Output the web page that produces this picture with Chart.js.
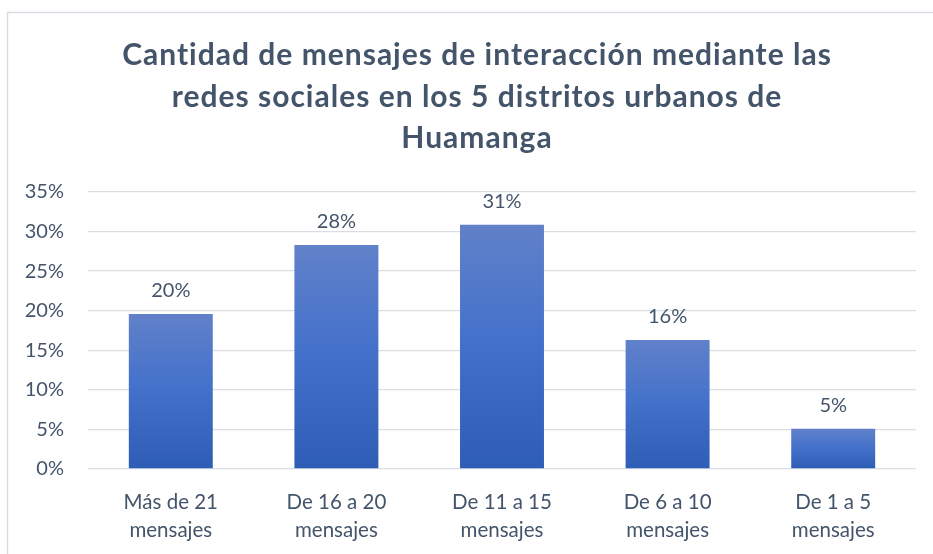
<!DOCTYPE html>
<html>
<head>
<meta charset="utf-8">
<script src="https://cdn.jsdelivr.net/npm/chart.js@4/dist/chart.umd.min.js"></script>
<style>
  html, body { margin: 0; padding: 0; background: #ffffff; }
  #wrap { position: relative; width: 933px; height: 554px; }
</style>
</head>
<body>
<div id="wrap"><canvas id="c" width="933" height="554"></canvas></div>
<script>
const titleLines = [
  "Cantidad de mensajes de interacción mediante las",
  "redes sociales en los 5 distritos urbanos de",
  "Huamanga"
];
const categories = [
  ["Más de 21", "mensajes"],
  ["De 16 a 20", "mensajes"],
  ["De 11 a 15", "mensajes"],
  ["De 6 a 10", "mensajes"],
  ["De 1 a 5", "mensajes"]
];
const percentValues = [19.6, 28.3, 30.85, 16.3, 5.1];
const valueLabels = ["20%", "28%", "31%", "16%", "5%"];
const yTickMax = 35;
const yTickStep = 5;

const textColor = "#44546a";
const gridColor = "#dadee4";
const fontFamily = "Lato, 'Open Sans', sans-serif";

function barGradient(ctx) {
  const chart = ctx.chart;
  const ys = chart.scales && chart.scales.y;
  if (!chart.chartArea || !ys || ctx.dataIndex === undefined) return "#4472c4";
  const v = percentValues[ctx.dataIndex];
  const top = ys.getPixelForValue(v);
  const bottom = ys.getPixelForValue(0);
  if (!isFinite(top) || !isFinite(bottom) || top === bottom) return "#4472c4";
  const g = chart.ctx.createLinearGradient(0, top, 0, bottom);
  g.addColorStop(0, "#6181c9");
  g.addColorStop(0.45, "#4572cb");
  g.addColorStop(1, "#2e5db6");
  return g;
}

const frameTitleLabels = {
  id: "frameTitleLabels",
  beforeDraw(chart) {
    const c = chart.ctx;
    c.save();
    c.fillStyle = "#ffffff";
    c.fillRect(0, 0, chart.width, chart.height);
    c.strokeStyle = "#d9dde3";
    c.lineWidth = 1.5;
    c.strokeRect(7.5, 12.5, 1000, 1000);
    // title
    c.fillStyle = textColor;
    c.font = "bold 30px " + fontFamily;
    c.textAlign = "center";
    c.textBaseline = "alphabetic";
    if ("letterSpacing" in c) c.letterSpacing = "1px";
    const cx = 477;
    titleLines.forEach((line, i) => {
      c.fillText(line, cx, 65 + i * 41.7);
    });
    c.restore();
  },
  afterDatasetsDraw(chart) {
    const c = chart.ctx;
    const meta = chart.getDatasetMeta(0);
    c.save();
    c.fillStyle = textColor;
    c.font = "20px " + fontFamily;
    c.textAlign = "center";
    c.textBaseline = "middle";
    meta.data.forEach((bar, i) => {
      c.fillText(valueLabels[i], bar.x, bar.y - 23);
    });
    c.restore();
  }
};

new Chart(document.getElementById("c"), {
  type: "bar",
  data: {
    labels: categories,
    datasets: [{
      data: percentValues,
      backgroundColor: barGradient,
      borderWidth: 0,
      categoryPercentage: 1.0,
      barPercentage: 0.507
    }]
  },
  options: {
    responsive: false,
    animation: false,
    devicePixelRatio: 1,
    layout: { padding: { top: 192, left: 0, right: 17, bottom: 0 } },
    plugins: {
      legend: { display: false },
      tooltip: { enabled: false },
      title: { display: false }
    },
    scales: {
      x: {
        grid: { display: false, drawTicks: false },
        border: { display: false },
        ticks: {
          color: textColor,
          font: { family: fontFamily, size: 20.5, lineHeight: 1.38 },
          padding: 19,
          maxRotation: 0,
          autoSkip: false
        },
        afterFit(scale) { scale.height = 85; }
      },
      y: {
        min: 0,
        max: yTickMax,
        grid: { color: gridColor, lineWidth: 1.3, drawTicks: false },
        border: { display: false },
        ticks: {
          stepSize: yTickStep,
          color: textColor,
          font: { family: fontFamily, size: 20 },
          padding: 24,
          callback: (v) => v + "%"
        },
        afterFit(scale) { scale.width = 88; }
      }
    }
  },
  plugins: [frameTitleLabels]
});
</script>
</body>
</html>
